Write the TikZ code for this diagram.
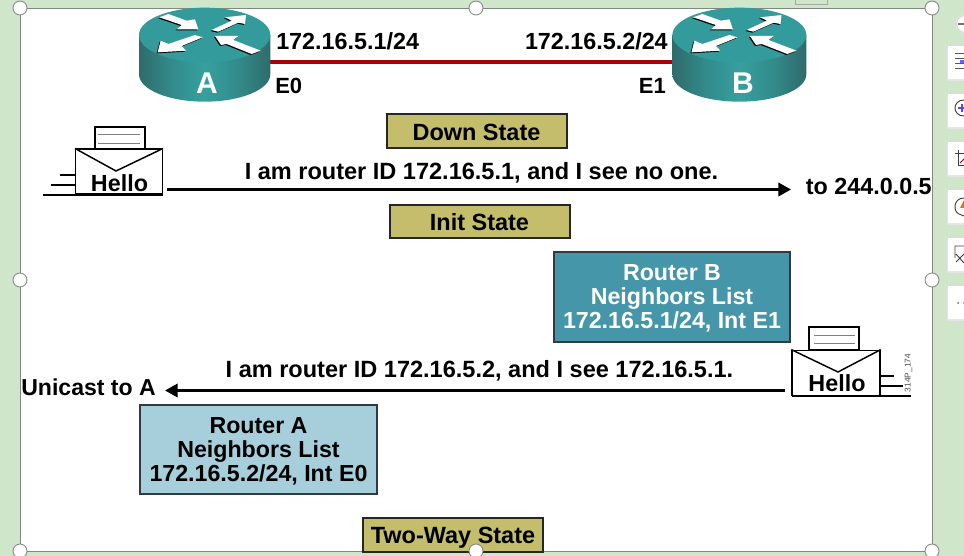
\documentclass[tikz,border=0pt]{standalone}
\usepackage{fontspec}
\setmainfont{Liberation Sans}
\usetikzlibrary{arrows.meta}
\definecolor{pagegreen}{HTML}{CFE6CA}
\definecolor{slideedge}{HTML}{7F8A7F}
\definecolor{linkred}{HTML}{A00808}
\definecolor{statefill}{HTML}{C3BD6C}
\definecolor{boxedge}{HTML}{2F3B40}
\definecolor{tealbox}{HTML}{4596A9}
\definecolor{paleblue}{HTML}{A7CFDB}
\definecolor{routertop}{HTML}{339B9B}
\definecolor{routerdark}{HTML}{2F6B6C}
\definecolor{routershade}{HTML}{338C8C}
\definecolor{routermid}{HTML}{36A09F}
% Side of the router drum: dark at both edges, bright across the middle
\pgfdeclarehorizontalshading{drumside}{100bp}{
  color(0bp)=(routerdark); color(25bp)=(routerdark); color(38bp)=(routershade);
  color(50bp)=(routermid); color(62bp)=(routershade); color(75bp)=(routerdark);
  color(100bp)=(routerdark)}
\tikzset{
  x=0.75pt,y=-0.75pt,
  label text/.style={font=\fontsize{17.5}{20}\selectfont\bfseries,text=black,inner sep=0pt},
  message text/.style={font=\fontsize{17.65}{20}\selectfont\bfseries,text=black,inner sep=0pt},
  port text/.style={font=\fontsize{16.5}{20}\selectfont\bfseries,text=black,inner sep=0pt},
  statebox/.style={draw=black!85,line width=1.5pt,fill=statefill,inner sep=0pt,
    text height=17pt,text depth=3pt,
    font=\fontsize{17.6}{20}\selectfont\bfseries},
  listbox/.style={draw=boxedge,line width=1.5pt,inner sep=0pt,align=center,
    font=\fontsize{17.4}{17.7}\selectfont\bfseries},
  message/.style={draw=black,line width=2.1pt,-{Triangle[length=9.5pt,width=10pt]}},
  envelope/.style={draw=black,line width=1.1pt,fill=white},
  paperline/.style={draw=black!50,line width=0.6pt},
  speedline/.style={draw=black,line width=1.1pt},
  handle/.style={circle,draw=black!50,line width=0.6pt,fill=white,minimum size=10.5pt,inner sep=0pt},
  toolbtn/.style={fill=white,draw=none},
}
% One router: a teal drum with four white arrows on its top face
\newcommand{\routerdrum}[2]{%
  \begin{scope}[shift={(#1,0)},xscale=#2/3,yscale=1/3]
    \shade[shading=drumside]
      (57,105) -- (57,223) arc[start angle=180,end angle=0,x radius=197,y radius=82]
      -- (451,105) -- cycle;
    \fill[routertop] (254,105) ellipse [x radius=197,y radius=82];
    \foreach \ink/\dx/\dy in {black/-3/3,white/0/0}{
      \begin{scope}[shift={(\dx,\dy)}]
        \fill[\ink] (118,52) -- (145,42) -- (200,62) -- (225,58) -- (235,88) -- (170,88) -- (185,75) -- cycle;
        \fill[\ink] (275,90) -- (335,62) -- (315,52) -- (378,45) -- (375,72) -- (355,68) -- (295,95) -- cycle;
        \fill[\ink] (225,105) -- (248,112) -- (185,138) -- (198,152) -- (113,157) -- (122,122) -- (145,132) -- cycle;
        \fill[\ink] (285,108) -- (355,108) -- (340,120) -- (422,152) -- (395,162) -- (320,132) -- (303,135) -- cycle;
      \end{scope}
    }
  \end{scope}}
\begin{document}
\begin{tikzpicture}
\useasboundingbox (0,0) rectangle (964,556);
\clip (0,0) rectangle (964,556);
% window and slide
\fill[pagegreen] (0,0) rectangle (964,556);
\draw[black!35,line width=0.5pt] (795,-2) -- (795,4) -- (827,4) -- (827,-2);
\draw[slideedge,line width=0.7pt,fill=white] (20,8) rectangle (932,551);

% side toolbar
\fill[black!12] (965,24) circle (9);
\fill[white] (965,24) circle (7.5);
\draw[black!55,line width=0.8pt] (958,24) -- (964,24);
\foreach \top in {46,94,142,190,238,286}{
  \fill[black!10] (947,\top+2) rectangle (964,\top+35);
  \fill[toolbtn] (948,\top) rectangle (964,\top+33);
}
\draw[black!65,line width=0.7pt] (955,53) -- (964,53) (955,58) -- (964,58) (955,63) -- (964,63) (955,68) -- (964,68);
\fill[blue!60!white] (960,60) rectangle (964,63);
\draw[black!75,line width=0.7pt] (964,100) .. controls (952,100) and (952,116) .. (964,116);
\draw[blue!70!white,line width=1pt] (958,108) -- (964,108) (962,104) -- (962,112);
\draw[black!75,line width=0.7pt] (958,150) -- (958,165) -- (964,165) (955,153) -- (964,153);
\draw[red!70!black,line width=0.7pt] (960,163) -- (964,159);
\draw[black!75,line width=0.7pt] (964,198) .. controls (953,198) and (953,212) .. (959,214) -- (964,216);
\fill[orange!90!black] (960,208) -- (964,200) -- (964,208) -- cycle;
\draw[black!75,line width=0.7pt] (964,246) -- (955,246) -- (955,258) (956,262) -- (964,254) (956,254) -- (964,263);
\fill[black!60] (958,303) circle (1) (964,303) circle (1);

% link between the routers
\coordinate (linkA) at (262,62);
\coordinate (linkB) at (680,62);
\draw[linkred,line width=3pt] (linkA) -- (linkB);
\routerdrum{120}{1}
\routerdrum{653}{1.02}
\node[font=\fontsize{22.5}{26}\selectfont\bfseries,text=white,inner sep=0pt,anchor=base] (letterA) at (207,94) {A};
\node[font=\fontsize{22.5}{26}\selectfont\bfseries,text=white,inner sep=0pt,anchor=base] (letterB) at (743,94) {B};

% addresses and interfaces
\node[label text,anchor=base west] (addrA) at (276,50) {172.16.5.1/24};
\node[label text,anchor=base east] (addrB) at (668,50) {172.16.5.2/24};
\node[port text,anchor=base west] (ifA) at (275,94) {E0};
\node[port text,anchor=base east] (ifB) at (666,94) {E1};

% state banners
\node[statebox,minimum width=135pt,minimum height=25pt] (down) at (476.5,131) {Down State};
\node[statebox,minimum width=135pt,minimum height=24.5pt] (init) at (479.5,221.5) {Init State};
\node[statebox,text height=15pt,minimum width=135.5pt,minimum height=25pt] (twoway) at (453,535) {Two-Way State};

% neighbor tables
\node[listbox,fill=tealbox,text=white,minimum width=177.5pt,minimum height=67pt] (listB) at (672,297)
  {\rule{0pt}{13.8pt}Router B\\Neighbors List\\172.16.5.1/24, Int E1};
\node[listbox,fill=paleblue,text=black,minimum width=178pt,minimum height=66.5pt] (listA) at (258.5,449.5)
  {\rule{0pt}{14.8pt}Router A\\Neighbors List\\172.16.5.2/24, Int E0};

% outgoing hello from router A
\draw[envelope] (95,127) rectangle (145,149);
\draw[paperline] (98,134.5) -- (140,134.5) (98,143) -- (140,143);
\node[envelope,minimum width=65pt,minimum height=33.5pt,inner sep=0pt] (helloA) at (119,171.5) {};
\draw[line width=1.1pt] (helloA.north west) -- (116,171) -- (helloA.north east);
\node[label text,anchor=base] (helloAtext) at (119.5,192) {Hello};
\draw[speedline] (60,175) -- (75,175) (51,185) -- (75,185) (43,195) -- (163,195);
\coordinate (sendA) at (167,189.5);
\coordinate (recvAll) at (791,189.5);
\draw[message] (sendA) -- (recvAll);
\node[message text,anchor=base] (msgA) at (481.5,179.5) {I am router ID 172.16.5.1, and I see no one.};
\node[label text,anchor=base east] (multicast) at (932,195) {to 244.0.0.5};

% reply hello from router B
\draw[envelope] (809,327) rectangle (859,350);
\draw[paperline] (814,335) -- (855,335) (814,343.5) -- (855,343.5);
\node[envelope,minimum width=66pt,minimum height=34pt,inner sep=0pt] (helloB) at (836,373) {};
\draw[line width=1.1pt] (helloB.north west) -- (838,372) -- (helloB.north east);
\node[label text,anchor=base] (helloBtext) at (837,391) {Hello};
\draw[speedline] (880,376) -- (894,376) (880,386) -- (903,386) (792,396) -- (911,396);
\coordinate (sendB) at (785,390.5);
\coordinate (recvA) at (165,390.5);
\draw[message] (sendB) -- (recvA);
\node[message text,anchor=base] (msgB) at (479.5,377.5) {I am router ID 172.16.5.2, and I see 172.16.5.1.};
\node[font=\fontsize{17.3}{20}\selectfont\bfseries,inner sep=0pt,anchor=base west] (unicast) at (21,395) {Unicast to A};
\node[font=\fontsize{6.3}{7}\selectfont,text=black!70,rotate=90,inner sep=0pt] (figcode) at (908.5,373) {314P\_174};

% selection handles of the slide picture
\foreach \hx/\hy/\hname in {20/8/ha,476/8/hb,932/8/hc,20/280/hd,932/280/he,20/551/hf,476/551/hg,932/551/hh}{
  \node[handle] (\hname) at (\hx,\hy) {};
}
\end{tikzpicture}
\end{document}
